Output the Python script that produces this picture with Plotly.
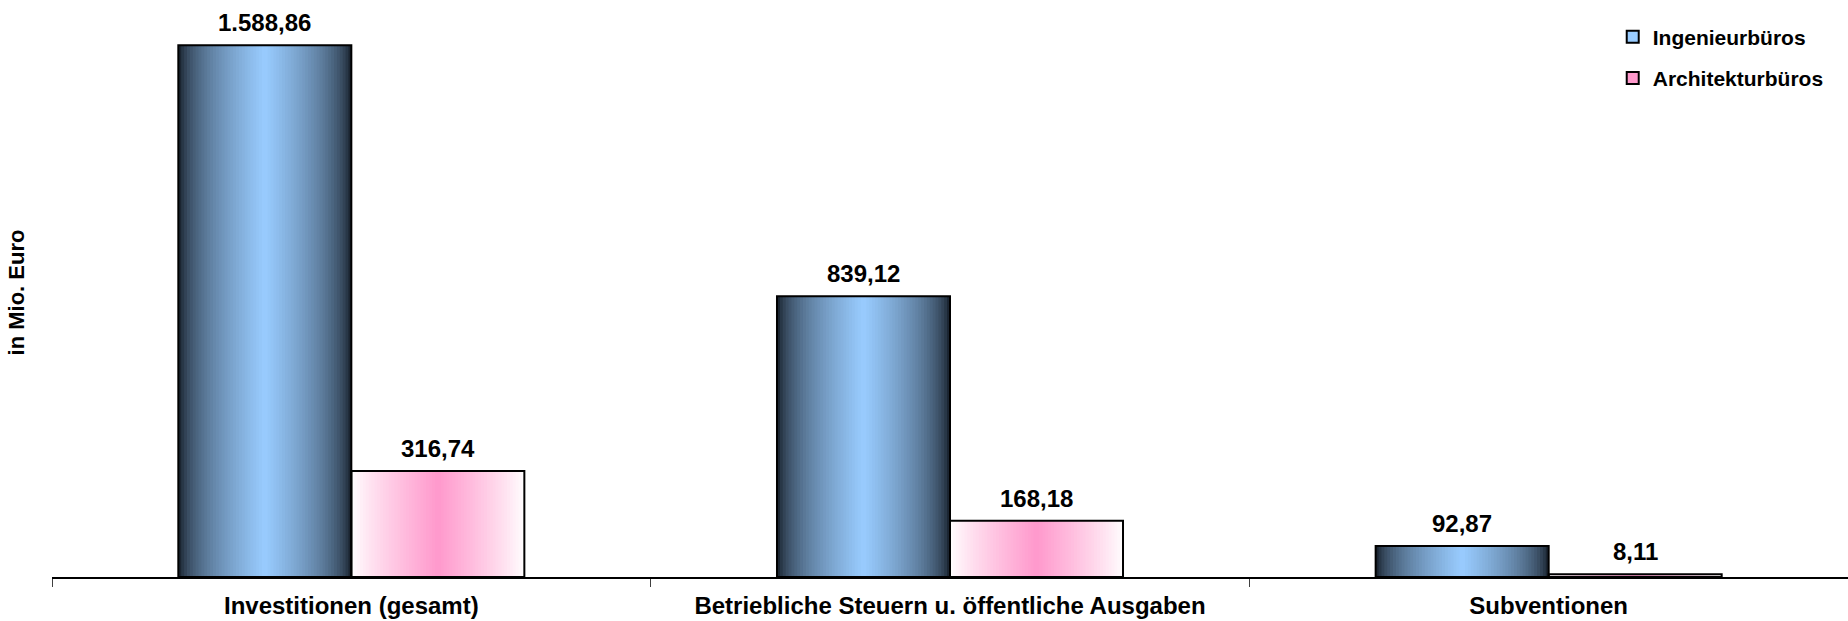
import plotly.graph_objects as go

categories = ["Investitionen (gesamt)", "Betriebliche Steuern u. öffentliche Ausgaben", "Subventionen"]
series_names = ["Ingenieurbüros", "Architekturbüros"]
ingenieur = [1588.86, 839.12, 92.87]
architektur = [316.74, 168.18, 8.11]
value_labels_ing = ["1.588,86", "839,12", "92,87"]
value_labels_arc = ["316,74", "168,18", "8,11"]

FONT = "Liberation Sans, Arial, sans-serif"
BAR_W = 0.289
N_STRIPS = 60

def lerp(c1, c2, t):
    return "rgb(%d,%d,%d)" % tuple(round(a + (b - a) * t) for a, b in zip(c1, c2))

# values, labels, edge colour, centre colour, offset, legend colour, gradient exponent
series = [
    (ingenieur, value_labels_ing, (8, 12, 18), (153, 204, 255), -BAR_W, "#99ccff", 0.5),
    (architektur, value_labels_arc, (255, 255, 255), (255, 153, 204), 0.0, "#ff99cc", 0.85),
]

fig = go.Figure()

for vals, labels, edge, mid, off0, legend_col, gexp in series:
    sw = BAR_W / N_STRIPS
    for i in range(N_STRIPS):
        pos = (i + 0.5) / N_STRIPS
        t = (1 - abs(pos - 0.5) * 2) ** gexp
        fig.add_trace(go.Bar(
            x=categories, y=vals, width=BAR_W - i * sw, offset=off0 + i * sw,
            marker=dict(color=lerp(edge, mid, t), line=dict(width=0)),
            showlegend=False, hoverinfo="skip"))

for (vals, labels, edge, mid, off0, legend_col, gexp), name in zip(series, series_names):
    fig.add_trace(go.Bar(
        x=categories, y=vals, width=BAR_W, offset=off0,
        marker=dict(color="rgba(0,0,0,0)", line=dict(color="black", width=2)),
        showlegend=False, name=name))

for (vals, labels, edge, mid, off0, legend_col, gexp), name in zip(series, series_names):
    fig.add_trace(go.Bar(
        x=[categories[0]], y=[None], name="<b>%s</b>" % name,
        marker=dict(color=legend_col, line=dict(color="black", width=2)),
        legendgroup=name))

annotations = []
for vals, labels, edge, mid, off0, legend_col, gexp in series:
    for i, (v, lab) in enumerate(zip(vals, labels)):
        annotations.append(dict(
            x=i + off0 + BAR_W / 2, y=v, xref="x", yref="y",
            text="<b>%s</b>" % lab, showarrow=False, yanchor="bottom",
            yshift=7, font=dict(family=FONT, size=24, color="black")))

fig.update_layout(
    width=1848, height=621,
    margin=dict(l=52, r=0, t=8, b=44, autoexpand=False),
    paper_bgcolor="white", plot_bgcolor="white",
    barmode="overlay",
    font=dict(family=FONT, size=22, color="black"),
    annotations=annotations,
    legend=dict(x=0.869, y=0.985, xanchor="left", yanchor="top",
                font=dict(family=FONT, size=21, color="black"),
                traceorder="grouped", tracegroupgap=11,
                bgcolor="rgba(0,0,0,0)"),
    xaxis=dict(
        type="category", tickson="boundaries", ticks="outside", ticklen=8,
        tickcolor="#404040", tickwidth=1,
        showline=True, linecolor="black", linewidth=1.5,
        showgrid=False, zeroline=False,
        tickvals=categories, ticktext=["<b>%s</b>" % c for c in categories],
        tickfont=dict(family=FONT, size=24, color="black"),
        ticklabelstandoff=6, automargin=False),
    yaxis=dict(
        range=[0, 1700], showticklabels=False, showgrid=False, zeroline=False,
        showline=False, ticks="", automargin=False,
        title=dict(text="<b>in Mio. Euro</b>", standoff=20,
                   font=dict(family=FONT, size=22, color="black"))),
)

fig.write_html("out.html", config={"displayModeBar": False},
               post_script="document.body.style.margin='0';document.body.style.overflow='hidden';")
